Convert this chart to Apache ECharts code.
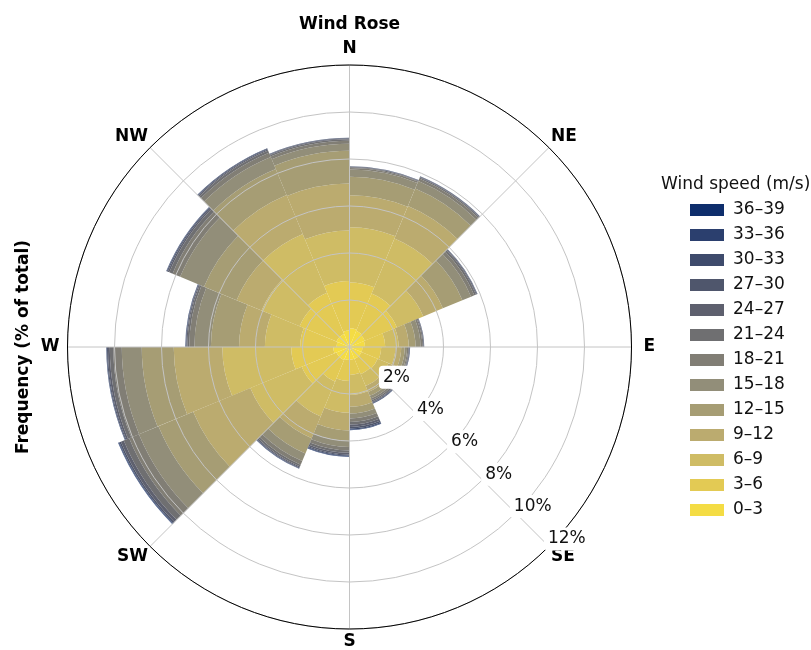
<!DOCTYPE html>
<html>
<head>
<meta charset="utf-8">
<script src="https://cdn.jsdelivr.net/npm/echarts@6/dist/echarts.min.js"></script>
<style>
html,body{margin:0;padding:0;background:#fff;}
#chart{width:811px;height:650px;}
</style>
</head>
<body>
<div id="chart"></div>
<script>
// 16 direction sectors, each spanning 22.5 degrees clockwise from its start bearing
const sectors = ['N','NNE','NE','ENE','E','ESE','SE','SSE','S','SSW','SW','WSW','W','WNW','NW','NNW'];
const compassLabels = ['N','NE','E','SE','S','SW','W','NW'];
const speedBins = ['0–3','3–6','6–9','9–12','12–15','15–18','18–21','21–24','24–27','27–30','30–33','33–36','36–39'];
const binColors = ['#f4dc44','#e3ca54','#cfbc65','#bbab6f','#a69d74','#928e79','#817e75','#6f6f71','#5e606e','#4f566c','#3e4b6c','#2b3f6e','#0e2e6c'];

// frequency (% of total) per speed bin, one value per sector
const bin0_3   = [0.80,0.75,0.70,0.66,0.55,0.55,0.55,0.54,0.55,0.60,0.60,0.69,0.55,0.60,0.60,0.70];
const bin3_6   = [1.95,1.71,1.48,0.86,0.80,0.75,0.70,0.65,0.90,1.00,1.60,1.79,1.55,1.70,1.90,2.11];
const bin6_9   = [2.35,2.54,1.22,0.57,0.60,0.50,0.55,0.85,1.35,1.60,2.37,2.93,1.50,1.75,2.70,2.15];
const bin9_12  = [1.36,1.50,0.90,0.43,0.25,0.22,0.27,0.50,0.75,1.00,2.63,2.07,1.10,1.15,1.80,2.00];
const bin12_15 = [0.78,0.80,0.90,0.29,0.15,0.13,0.18,0.29,0.45,0.70,1.60,1.36,1.20,1.50,1.20,1.39];
const bin15_18 = [0.31,0.35,0.40,0.21,0.10,0.08,0.12,0.21,0.25,0.35,0.90,0.85,0.70,1.10,0.55,0.30];
const bin18_21 = [0.07,0.11,0.15,0.08,0.05,0.05,0.08,0.15,0.15,0.17,0.45,0.36,0.22,0.35,0.20,0.13];
const bin21_24 = [0.03,0.05,0.08,0.04,0.03,0.03,0.06,0.11,0.10,0.08,0.25,0.15,0.08,0.15,0.10,0.06];
const bin24_27 = [0.02,0.02,0.04,0.02,0.02,0.02,0.04,0.10,0.07,0.05,0.13,0.08,0.04,0.07,0.05,0.03];
const bin27_30 = [0.01,0.02,0.02,0.01,0.02,0.02,0.03,0.07,0.05,0.03,0.07,0.04,0.02,0.04,0.03,0.02];
const bin30_33 = [0.01,0.01,0.01,0.01,0.01,0.01,0.02,0.04,0.03,0.02,0.03,0.02,0.02,0.02,0.02,0.01];
const bin33_36 = [0.00,0.00,0.00,0.00,0.00,0.00,0.01,0.02,0.02,0.01,0.02,0.01,0.01,0.01,0.01,0.00];
const bin36_39 = [0.00,0.00,0.00,0.00,0.00,0.00,0.00,0.01,0.01,0.00,0.01,0.00,0.00,0.00,0.00,0.00];

const binValues = [bin0_3,bin3_6,bin6_9,bin9_12,bin12_15,bin15_18,bin18_21,bin21_24,bin24_27,bin27_30,bin30_33,bin33_36,bin36_39];

const FONT = 'DejaVu Sans';
const chart = echarts.init(document.getElementById('chart'), null, {renderer: 'canvas'});

const series = speedBins.map((name, i) => ({
  type: 'bar',
  name: name,
  coordinateSystem: 'polar',
  polarIndex: 0,
  stack: 'wind',
  barCategoryGap: '0%',
  data: binValues[i],
  itemStyle: {color: binColors[i], borderWidth: 0},
  z: 2
}));

// rich style key per compass label (cardinals sit a little further out than diagonals)
const compassStyle = {N: 'n', S: 's', E: 'e', W: 'w', NE: 'd', SE: 'd', SW: 'd', NW: 'd'};
const labelBase = {fontFamily: FONT, fontSize: 17, fontWeight: 'bold', color: '#000'};

const option = {
  animation: false,
  backgroundColor: '#fff',
  textStyle: {fontFamily: FONT},
  title: [
    {text: 'Wind Rose', left: 344.5, textAlign: 'center', top: 11, textStyle: {fontFamily: FONT, fontSize: 17, fontWeight: 'bold', color: '#000'}},
    {text: 'Wind speed (m/s)', left: 656, top: 171, textStyle: {fontFamily: FONT, fontSize: 17, fontWeight: 'normal', color: '#111'}}
  ],
  legend: {
    orient: 'vertical',
    left: 685,
    top: 195,
    itemWidth: 34,
    itemHeight: 12,
    itemGap: 5,
    icon: 'rect',
    data: speedBins.slice().reverse(),
    textStyle: {fontFamily: FONT, fontSize: 17, color: '#111', padding: [0,0,0,4], lineHeight: 20}
  },
  polar: [
    {center: [349.5, 347], radius: 282},
    {center: [349.5, 347], radius: 282},
    // frame that only carries the radial percentage labels (matplotlib-style offset label line)
    {center: [362.3, 344.8], radius: 282}
  ],
  angleAxis: [
    {
      polarIndex: 0, type: 'category', data: sectors, startAngle: 90, clockwise: true, boundaryGap: true,
      axisLine: {show: false}, axisTick: {show: false}, axisLabel: {show: false}, splitLine: {show: false}
    },
    {
      polarIndex: 1, type: 'value', min: 0, max: 360, interval: 45, startAngle: -45, clockwise: true, z: 10,
      axisLine: {show: true, lineStyle: {color: '#000', width: 1}},
      axisTick: {show: false},
      splitLine: {show: true, lineStyle: {color: '#c4c4c4', width: 1}},
      axisLabel: {
        show: true, margin: 3,
        fontFamily: FONT, fontSize: 17, fontWeight: 'bold', color: '#000',
        formatter: v => {
          const name = compassLabels[((Math.round((135 + v) / 45)) % 8 + 8) % 8];
          return '{' + compassStyle[name] + '|' + name + '}';
        },
        rich: {
          n: Object.assign({padding: [0, 0, 5, 0]}, labelBase),
          s: Object.assign({padding: [1, 0, 0, 0]}, labelBase),
          e: Object.assign({padding: [0, 0, 0, 9]}, labelBase),
          w: Object.assign({padding: [0, 5, 0, 0]}, labelBase),
          d: Object.assign({}, labelBase)
        }
      }
    },
    {
      polarIndex: 2, type: 'value', min: 0, max: 360, startAngle: -43.5, clockwise: true,
      axisLine: {show: false}, axisTick: {show: false}, axisLabel: {show: false}, splitLine: {show: false}
    }
  ],
  radiusAxis: [
    {polarIndex: 0, min: 0, max: 12, show: false, axisLine: {show: false}, splitLine: {show: false}, axisLabel: {show: false}, axisTick: {show: false}},
    {
      polarIndex: 1, min: 0, max: 12, interval: 2, z: 10,
      axisLine: {show: false}, axisTick: {show: false}, axisLabel: {show: false},
      splitLine: {show: true, lineStyle: {color: '#c4c4c4', width: 1}}
    },
    {
      polarIndex: 2, min: 0, max: 12, interval: 2, z: 11,
      axisLine: {show: false}, axisTick: {show: false}, splitLine: {show: false},
      axisLabel: {
        show: true, showMinLabel: false, margin: 0, align: 'center', verticalAlign: 'middle',
        fontFamily: FONT, fontSize: 17, color: '#111',
        backgroundColor: '#fff', padding: [3, 4], borderRadius: 4,
        formatter: v => v + '%'
      }
    }
  ],
  graphic: [
    {type: 'text', x: 24, y: 347, rotation: Math.PI / 2, z: 20,
     style: {text: 'Frequency (% of total)', fontFamily: FONT, fontSize: 17, fontWeight: 'bold', fill: '#000', align: 'center', verticalAlign: 'middle'}}
  ],
  series: series
};
chart.setOption(option);
</script>
</body>
</html>
